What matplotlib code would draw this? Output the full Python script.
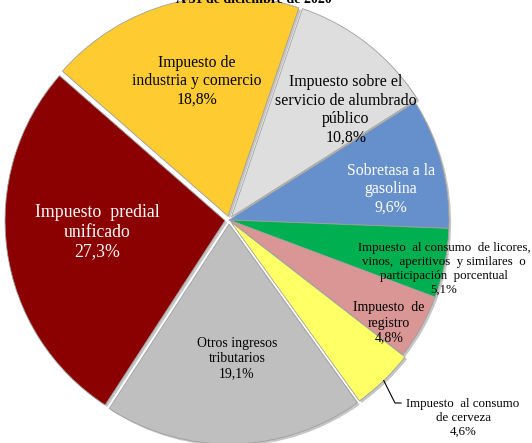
import numpy as np
import matplotlib.pyplot as plt
import matplotlib.patheffects as pe

plt.rcParams['font.family'] = ['Liberation Serif', 'DejaVu Serif']

# ingresos tributarios, participacion %
categorias = ['Impuesto de\nindustria y comercio',
              'Impuesto sobre el\nservicio de alumbrado\npúblico',
              'Sobretasa a la\ngasolina',
              'Impuesto  al consumo  de licores,\nvinos,  aperitivos  y similares  o\nparticipación  porcentual',
              'Impuesto  de\nregistro',
              'Impuesto  al consumo\nde cerveza',
              'Otros ingresos\ntributarios',
              'Impuesto  predial\nunificado']
valores = [18.8, 10.8, 9.6, 5.1, 4.8, 4.6, 19.1, 27.3]
etiquetas = [f'{v:.1f}'.replace('.', ',') + '%' for v in valores]

colores = ['#fecb30', '#dedede', '#6690cc', '#00b050',
           '#da9694', '#ffff66', '#bfbfbf', '#8b0000']

W, H = 532, 443
CX, CY = 229, 220
R = 220

# separacion de cada porcion, en px
separar = [4, 4, 0, 0, 0, 3, 4, 4]

# posiciones de texto (px de la imagen), tamano y color
pos_texto = [(197, 81), (346, 110), (391, 189), (444, 269),
             (389, 323), (463, 418), (237, 359), (97, 232)]
tam_texto = [11.3, 11.4, 11.4, 9.3, 10, 9.3, 9.9, 12.8]
color_texto = ['black', 'black', 'white', 'black',
               'black', 'black', 'black', 'white']

fig = plt.figure(figsize=(W / 100, H / 100), dpi=100)
ax = fig.add_axes([0, 0, 1, 1])

wedges, _ = ax.pie(valores, colors=colores, radius=R, startangle=138.8,
                   counterclock=False, explode=separar,
                   wedgeprops=dict(edgecolor='#a0a0a0', linewidth=0.6))
for w in wedges:
    w.set_path_effects([pe.SimplePatchShadow(offset=(1.5, -1.5), shadow_rgbFace='#808080', alpha=0.45),
                        pe.Normal()])

ax.set_xlim(-CX, W - CX)
ax.set_ylim(-(H - CY), CY)
ax.set_aspect('equal')
ax.axis('off')

for i, (cat, et) in enumerate(zip(categorias, etiquetas)):
    px, py = pos_texto[i]
    ax.text(px - CX, CY - py, cat + '\n' + et, ha='center', va='center',
            fontsize=tam_texto[i], color=color_texto[i], linespacing=1.2)

# linea guia para cerveza
w = wedges[5]
ang = np.deg2rad((w.theta1 + w.theta2) / 2)
x0 = w.center[0] + R * np.cos(ang)
y0 = w.center[1] + R * np.sin(ang)
ax.plot([x0, 166, 172], [y0, -183, -183], color='black', linewidth=0.8)

ax.text(254 - CX, CY - 3, 'A 31 de diciembre de 2020', ha='center', va='baseline',
        fontsize=10, fontweight='bold', clip_on=False)

fig.savefig('out.png', dpi=100)
